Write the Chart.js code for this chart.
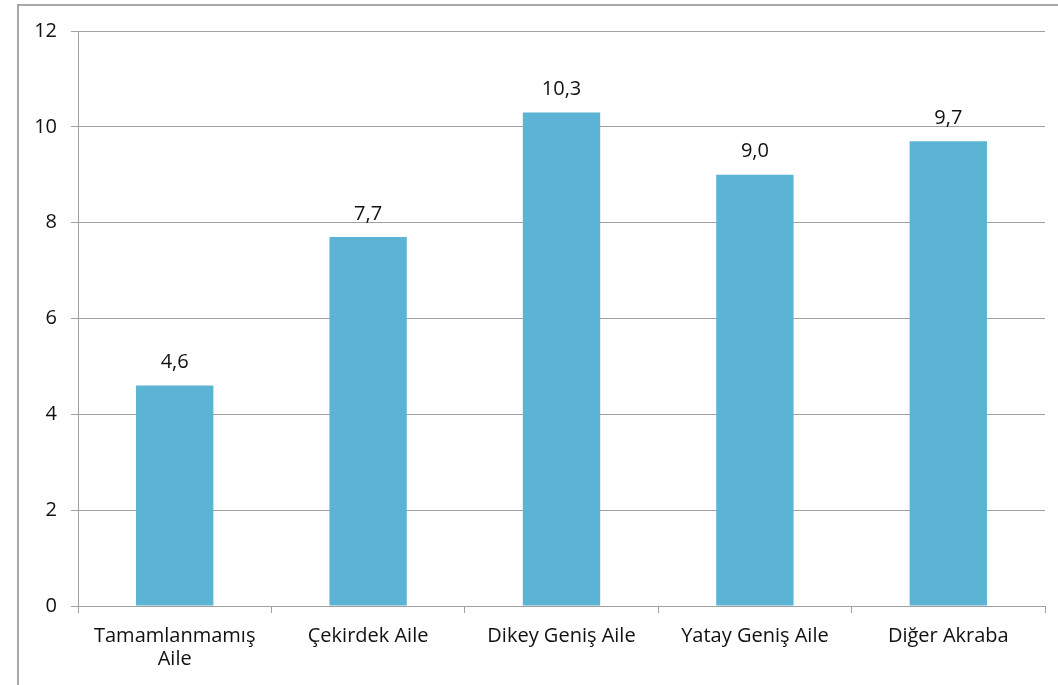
<!DOCTYPE html>
<html>
<head>
<meta charset="utf-8">
<script src="https://cdn.jsdelivr.net/npm/chart.js@4/dist/chart.umd.min.js"></script>
<style>
  html, body { margin: 0; padding: 0; background: #fff; overflow: hidden; }
  #frame { position: absolute; left: 17px; top: 4px; width: 1200px; height: 800px; border: 2px solid #a9a9a9; }
  #wrap { position: absolute; left: 0; top: 0; width: 1058px; height: 685px; }
</style>
</head>
<body>
<div id="frame"></div>
<div id="wrap"><canvas id="chart"></canvas></div>
<script>
// veriler
var kategoriler = [["Tamamlanmamış", "Aile"], "Çekirdek Aile", "Dikey Geniş Aile", "Yatay Geniş Aile", "Diğer Akraba"];
var degerler = [4.6, 7.7, 10.3, 9.0, 9.7];
var yEkseni = [0, 2, 4, 6, 8, 10, 12];

var fontAdi = "'Open Sans', Lato, sans-serif";

// çubukların üstüne değer yaz
var degerEtiketi = {
    id: "degerEtiketi",
    afterDatasetsDraw: function (chart) {
        var ctx = chart.ctx;
        var meta = chart.getDatasetMeta(0);
        ctx.save();
        ctx.fillStyle = "#111";
        ctx.font = "20px " + fontAdi;
        ctx.textAlign = "center";
        ctx.textBaseline = "middle";
        meta.data.forEach(function (bar, i) {
            var yazi = degerler[i].toFixed(1).replace(".", ",");
            ctx.fillText(yazi, bar.x, bar.y - 23);
        });
        ctx.restore();
    }
};

var ctx = document.getElementById("chart").getContext("2d");
new Chart(ctx, {
    type: "bar",
    data: {
        labels: kategoriler,
        datasets: [{
            data: degerler,
            backgroundColor: "#5bb4d4",
            borderWidth: 0,
            barPercentage: 0.4,
            categoryPercentage: 1.0
        }]
    },
    options: {
        responsive: true,
        maintainAspectRatio: false,
        animation: false,
        layout: { padding: { top: 31, right: 13, left: 0, bottom: 0 } },
        plugins: {
            legend: { display: false },
            tooltip: { enabled: false }
        },
        scales: {
            x: {
                offset: true,
                grid: {
                    offset: true,
                    drawOnChartArea: false,
                    drawTicks: true,
                    tickLength: 7,
                    color: "#a0a0a0"
                },
                border: { color: "#a0a0a0", width: 1 },
                ticks: {
                    color: "#111",
                    font: { family: fontAdi, size: 20, lineHeight: 1.15 },
                    padding: 12,
                    maxRotation: 0,
                    autoSkip: false
                },
                afterFit: function (axis) { axis.height = 79; }
            },
            y: {
                min: 0,
                max: 12,
                afterBuildTicks: function (axis) {
                    axis.ticks = yEkseni.map(function (v) { return { value: v }; });
                },
                grid: {
                    color: "#a0a0a0",
                    tickLength: 7
                },
                border: { color: "#a0a0a0", width: 1 },
                ticks: {
                    color: "#111",
                    font: { family: fontAdi, size: 20 },
                    padding: 14
                },
                afterFit: function (axis) { axis.width = 78; }
            }
        }
    },
    plugins: [degerEtiketi]
});
</script>
</body>
</html>
